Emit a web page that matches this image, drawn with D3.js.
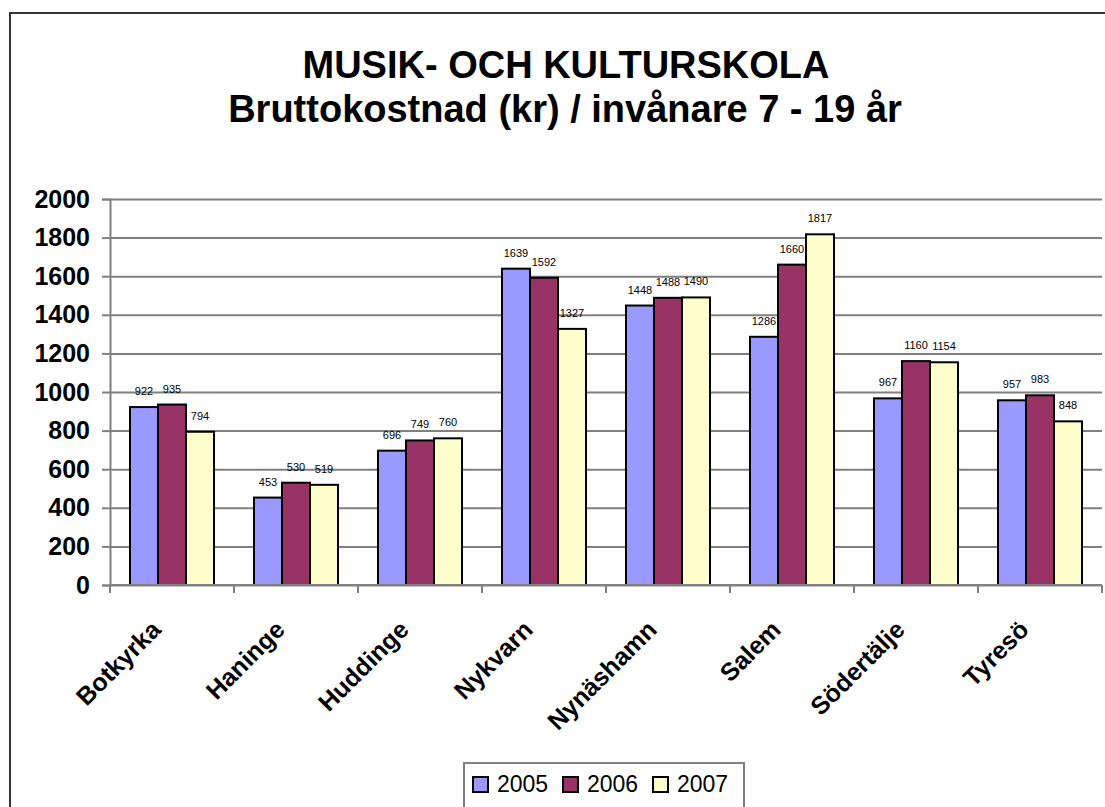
<!DOCTYPE html>
<html>
<head>
<meta charset="utf-8">
<title>Musik- och kulturskola</title>
<script src="https://cdn.jsdelivr.net/npm/d3@7"></script>
<style>
  body { margin: 0; background: #fff; }
  svg { display: block; font-family: Arial, "Liberation Sans", sans-serif; }
</style>
</head>
<body>
<svg id="chart" width="1105" height="807"></svg>
<script>
// data
var kommuner = ["Botkyrka", "Haninge", "Huddinge", "Nykvarn", "Nynäshamn", "Salem", "Södertälje", "Tyresö"];
var years = ["2005", "2006", "2007"];
var v2005 = [922, 453, 696, 1639, 1448, 1286, 967, 957];
var v2006 = [935, 530, 749, 1592, 1488, 1660, 1160, 983];
var v2007 = [794, 519, 760, 1327, 1490, 1817, 1154, 848];
var yTicks = [0, 200, 400, 600, 800, 1000, 1200, 1400, 1600, 1800, 2000];
var colors = ["#9999ff", "#993366", "#ffffcc"];

var series = [v2005, v2006, v2007];
var data = kommuner.map((k, i) => ({
  name: k,
  vals: years.map((y, j) => ({year: y, value: series[j][i]}))
}));

var svg = d3.select("#chart");
var margin = {top: 199, right: 3, bottom: 222, left: 110},
    width = +svg.attr("width") - margin.left - margin.right,
    height = +svg.attr("height") - margin.top - margin.bottom;

// outer frame (right and bottom edges fall outside the picture)
svg.append("rect")
    .attr("x", 10).attr("y", 13)
    .attr("width", 1110).attr("height", 810)
    .attr("fill", "#fff")
    .attr("stroke", "#333").attr("stroke-width", 2);

// title
var title = svg.append("text")
    .attr("text-anchor", "middle")
    .attr("font-weight", "bold")
    .attr("font-size", 38);
title.append("tspan").attr("x", 566).attr("y", 78).text("MUSIK- OCH KULTURSKOLA");
title.append("tspan").attr("x", 565).attr("y", 122).text("Bruttokostnad (kr) / invånare 7 - 19 år");

var g = svg.append("g").attr("transform", "translate(" + margin.left + "," + margin.top + ")");

var x0 = d3.scaleBand()
    .domain(kommuner)
    .range([0, width]);

var x1 = d3.scaleBand()
    .domain(years)
    .range([0, x0.bandwidth()])
    .paddingOuter(0.714);

var y = d3.scaleLinear()
    .domain([0, 2000])
    .range([height, 0]);

var color = d3.scaleOrdinal().domain(years).range(colors);

// gridlines + y axis
g.append("g")
    .call(d3.axisLeft(y).tickValues(yTicks).tickFormat(d3.format("d")).tickSize(8).tickPadding(12))
    .call(a => a.select(".domain").attr("stroke", "#808080").attr("stroke-width", 2))
    .call(a => a.selectAll(".tick line").attr("stroke", "#808080").attr("stroke-width", 2))
    .call(a => a.selectAll(".tick line").clone()
        .attr("x1", 0).attr("x2", width))
    .call(a => a.selectAll(".tick text")
        .attr("font-size", 25).attr("font-weight", "bold")
        .attr("font-family", null).attr("fill", "#000"));

// bars
var groups = g.selectAll(".grp")
  .data(data)
  .join("g")
    .attr("class", "grp")
    .attr("transform", d => "translate(" + x0(d.name) + ",0)");

groups.selectAll("rect")
  .data(d => d.vals)
  .join("rect")
    .attr("x", d => x1(d.year))
    .attr("y", d => y(d.value))
    .attr("width", x1.bandwidth())
    .attr("height", d => height - y(d.value))
    .attr("fill", d => color(d.year))
    .attr("stroke", "#000")
    .attr("stroke-width", 2);

groups.selectAll(".lbl")
  .data(d => d.vals)
  .join("text")
    .attr("class", "lbl")
    .attr("x", d => x1(d.year) + x1.bandwidth() / 2)
    .attr("y", d => y(d.value) - 12)
    .attr("text-anchor", "middle")
    .attr("font-size", 11)
    .attr("fill", "#000")
    .text(d => d.value);

// x axis with ticks at category boundaries
var bounds = d3.range(kommuner.length + 1).map(i => i * x0.step());
g.append("line")
    .attr("x1", 0).attr("x2", width)
    .attr("y1", height).attr("y2", height)
    .attr("stroke", "#808080").attr("stroke-width", 2);
g.selectAll(".xt")
  .data(bounds)
  .join("line")
    .attr("class", "xt")
    .attr("x1", d => d).attr("x2", d => d)
    .attr("y1", height).attr("y2", height + 8)
    .attr("stroke", "#808080").attr("stroke-width", 2);

g.selectAll(".xl")
  .data(kommuner)
  .join("text")
    .attr("class", "xl")
    .attr("transform", d => "translate(" + (x0(d) + x0.bandwidth() / 2 - 23) + "," + (height + 33) + ") rotate(-45)")
    .attr("text-anchor", "end")
    .attr("dy", "0.75em")
    .attr("font-size", 25)
    .attr("font-weight", "bold")
    .text(d => d);

// legend
var legend = svg.append("g").attr("transform", "translate(464,763)");
legend.append("rect")
    .attr("width", 280).attr("height", 60)
    .attr("fill", "#fff")
    .attr("stroke", "#808080").attr("stroke-width", 2);
var item = legend.selectAll(".li")
  .data(years)
  .join("g")
    .attr("class", "li")
    .attr("transform", (d, i) => "translate(" + (9 + i * 90) + ",14)");
item.append("rect")
    .attr("width", 15).attr("height", 15)
    .attr("fill", d => color(d))
    .attr("stroke", "#000").attr("stroke-width", 2);
item.append("text")
    .attr("x", 24).attr("y", 15)
    .attr("font-size", 23)
    .text(d => d);
</script>
</body>
</html>
